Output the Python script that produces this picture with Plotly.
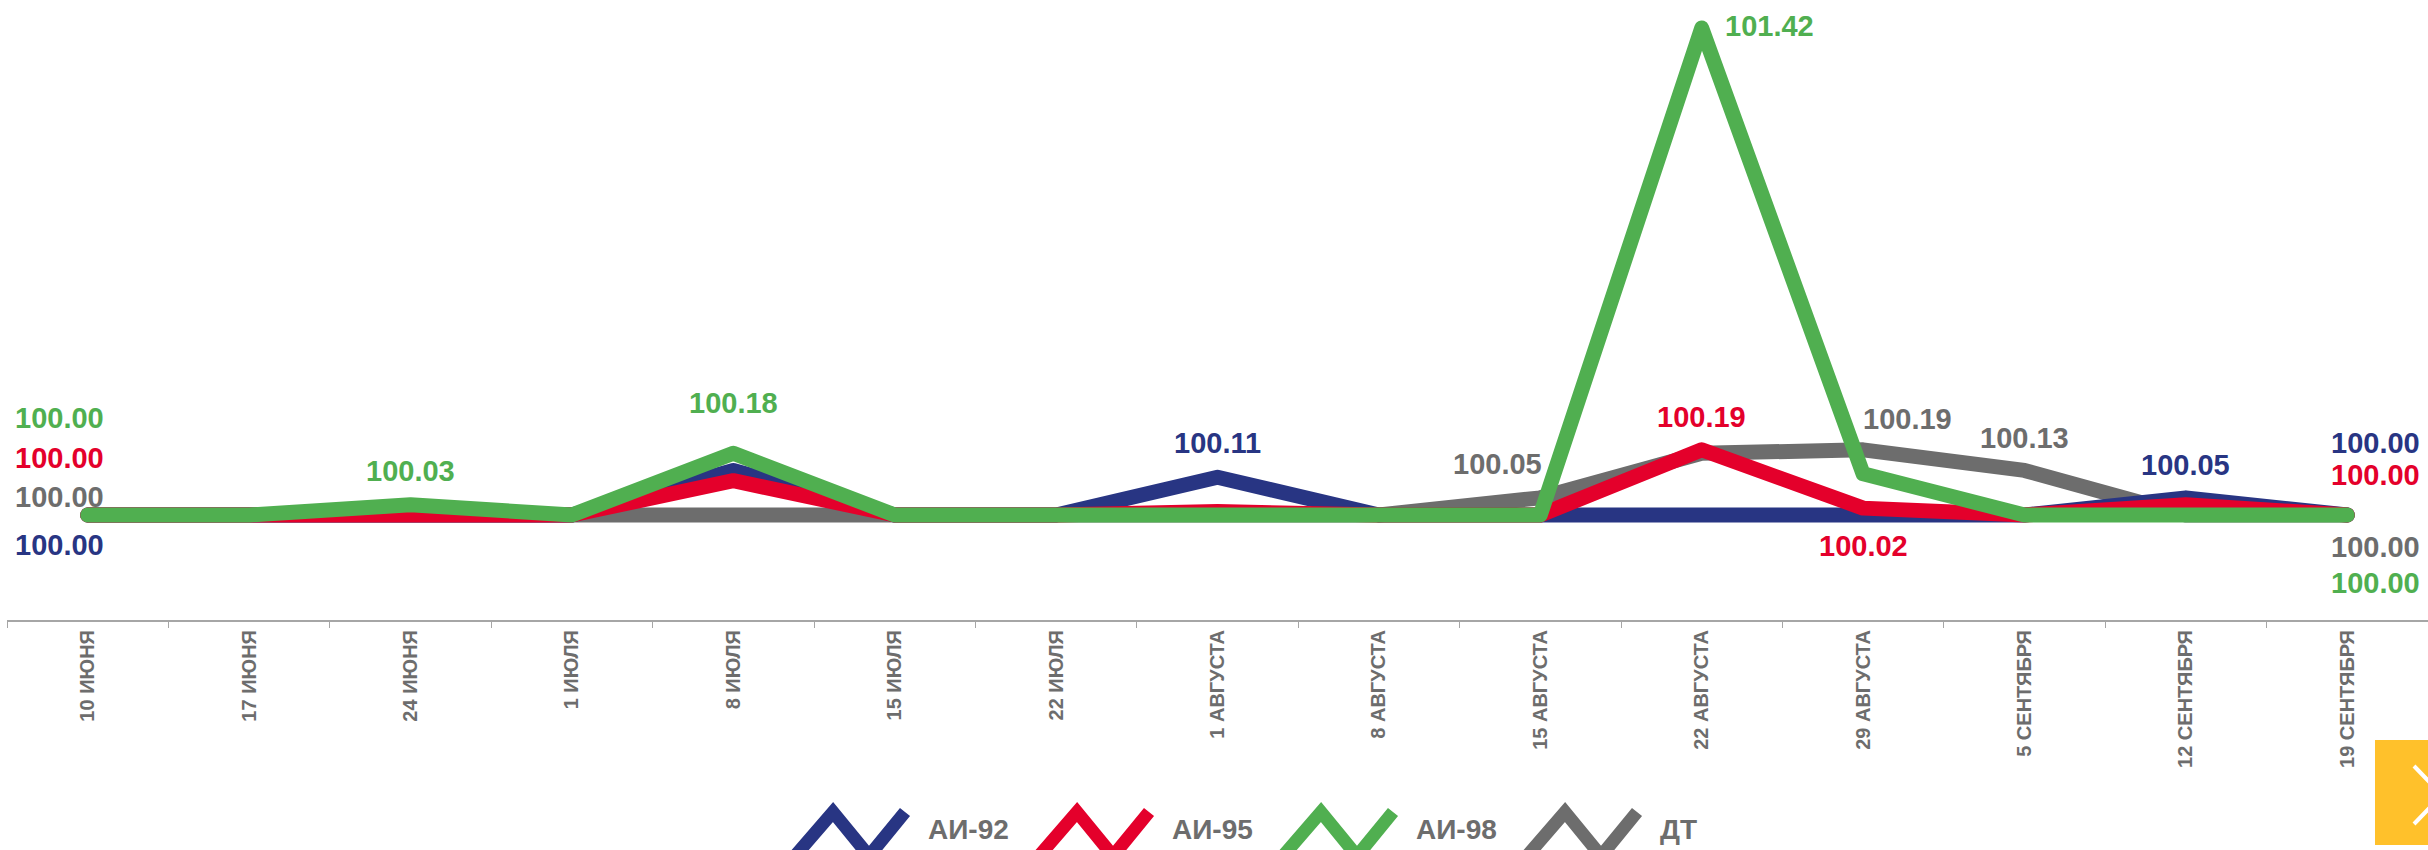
import plotly.graph_objects as go

# ---------------- data ----------------
categories = ["10 ИЮНЯ", "17 ИЮНЯ", "24 ИЮНЯ", "1 ИЮЛЯ", "8 ИЮЛЯ", "15 ИЮЛЯ", "22 ИЮЛЯ",
              "1 АВГУСТА", "8 АВГУСТА", "15 АВГУСТА", "22 АВГУСТА", "29 АВГУСТА",
              "5 СЕНТЯБРЯ", "12 СЕНТЯБРЯ", "19 СЕНТЯБРЯ"]

ai92 = [100.00, 100.00, 100.00, 100.00, 100.13, 100.00, 100.00, 100.11, 100.00, 100.00,
        100.00, 100.00, 100.00, 100.05, 100.00]
ai95 = [100.00, 100.00, 100.00, 100.00, 100.10, 100.00, 100.00, 100.01, 100.00, 100.00,
        100.19, 100.02, 100.00, 100.03, 100.00]
ai98 = [100.00, 100.00, 100.03, 100.00, 100.18, 100.00, 100.00, 100.00, 100.00, 100.00,
        101.42, 100.12, 100.00, 100.00, 100.00]
dt = [100.00, 100.00, 100.00, 100.00, 100.00, 100.00, 100.00, 100.00, 100.00, 100.05,
      100.18, 100.19, 100.13, 100.00, 100.00]

series_names = ["АИ-92", "АИ-95", "АИ-98", "ДТ"]
series_values = [ai92, ai95, ai98, dt]
colors = ["#283583", "#E4002B", "#50AF50", "#6D6D6D"]

# labelled points: (series index, point index, xshift px, yshift px)
labels = [
    (2, 0, -28, 97), (1, 0, -28, 57), (3, 0, -28, 18), (0, 0, -28, -30),
    (2, 2, 0, 34), (2, 4, 0, 50), (0, 7, 0, 34), (3, 9, -43, 34),
    (2, 10, 68, 2), (1, 10, 0, 33), (3, 11, 44, 31), (1, 11, 0, -38),
    (3, 12, 0, 32), (0, 13, 0, 33),
    (0, 14, 28, 72), (1, 14, 28, 40), (3, 14, 28, -32), (2, 14, 28, -68),
]

FONT = "Liberation Sans, Arial, sans-serif"
W, H = 2428, 850
ML, MR, MT, MB = 7, 0, 0, 230
PW, PH = W - ML - MR, H - MT - MB


def px_to_paper(px, py):
    return (px - ML) / PW, (H - MB - py) / PH


fig = go.Figure()

# draw order: ДТ, АИ-92, АИ-95, АИ-98 (green on top)
for i in [3, 0, 1, 2]:
    fig.add_trace(go.Scatter(
        x=categories, y=series_values[i], name=series_names[i], mode="lines",
        line=dict(color=colors[i], width=15), hoverinfo="skip", showlegend=False,
    ))

annotations = []
for si, pi, xs, ys in labels:
    annotations.append(dict(
        x=categories[pi], y=series_values[si][pi], xref="x", yref="y",
        text=f"{series_values[si][pi]:.2f}", showarrow=False,
        xshift=xs, yshift=ys, xanchor="center", yanchor="middle",
        font=dict(family=FONT, size=29, color=colors[si], weight="bold"),
    ))

# custom legend with zigzag symbols
shapes = []
legend_x0 = [795, 1039, 1283, 1527]
for i, ox in enumerate(legend_x0):
    pts = [(ox, 856), (ox + 38, 812), (ox + 74, 856), (ox + 110, 812)]
    pp = [px_to_paper(a, b) for a, b in pts]
    path = "M " + " L ".join(f"{a:.5f},{b:.5f}" for a, b in pp)
    shapes.append(dict(type="path", xref="paper", yref="paper", path=path,
                       line=dict(color=colors[i], width=13)))
    tx, ty = px_to_paper(ox + 131, 829)
    annotations.append(dict(
        x=tx, y=ty, xref="paper", yref="paper", text=series_names[i],
        showarrow=False, xanchor="left", yanchor="middle",
        font=dict(family=FONT, size=28, color="#6D6D6D", weight="bold"),
    ))

# yellow "next" button at bottom right
bx0, by0 = px_to_paper(2375, 845)
bx1, by1 = px_to_paper(2432, 740)
shapes.append(dict(type="rect", xref="paper", yref="paper", x0=bx0, x1=bx1, y0=by0, y1=by1,
                   fillcolor="#FFC12B", line=dict(width=0)))
c = [px_to_paper(2414, 766), px_to_paper(2442, 795), px_to_paper(2414, 824)]
shapes.append(dict(type="path", xref="paper", yref="paper",
                   path="M " + " L ".join(f"{a:.5f},{b:.5f}" for a, b in c),
                   line=dict(color="#FFFFFF", width=4)))

ymin, ymax = 99.6938, 101.5016

fig.update_layout(
    width=W, height=H,
    margin=dict(l=ML, r=MR, t=MT, b=MB),
    paper_bgcolor="white", plot_bgcolor="white",
    showlegend=False,
    annotations=annotations,
    shapes=shapes,
    xaxis=dict(
        type="category", range=[-0.5, len(categories) - 0.5],
        showline=True, linecolor="#A6A6A6", linewidth=2,
        ticks="outside", ticklen=6, tickcolor="#A6A6A6", tickwidth=1,
        tickson="boundaries", showgrid=False, zeroline=False,
        tickangle=-90, automargin=False,
        tickfont=dict(family=FONT, size=20, color="#6D6D6D", weight="bold"),
        fixedrange=True,
    ),
    yaxis=dict(range=[ymin, ymax], visible=False, showgrid=False, zeroline=False,
               fixedrange=True),
)

post = ("document.documentElement.style.margin='0';"
        "document.body.style.margin='0';"
        "document.body.style.padding='0';"
        "document.body.style.overflow='hidden';"
        "var s=document.createElement('style');"
        "s.innerHTML='.scatterlayer .js-line{stroke-linejoin:round !important;"
        "stroke-linecap:round !important;}';"
        "document.head.appendChild(s);")

fig.write_html("out.html", post_script=post, config={"displayModeBar": False})
